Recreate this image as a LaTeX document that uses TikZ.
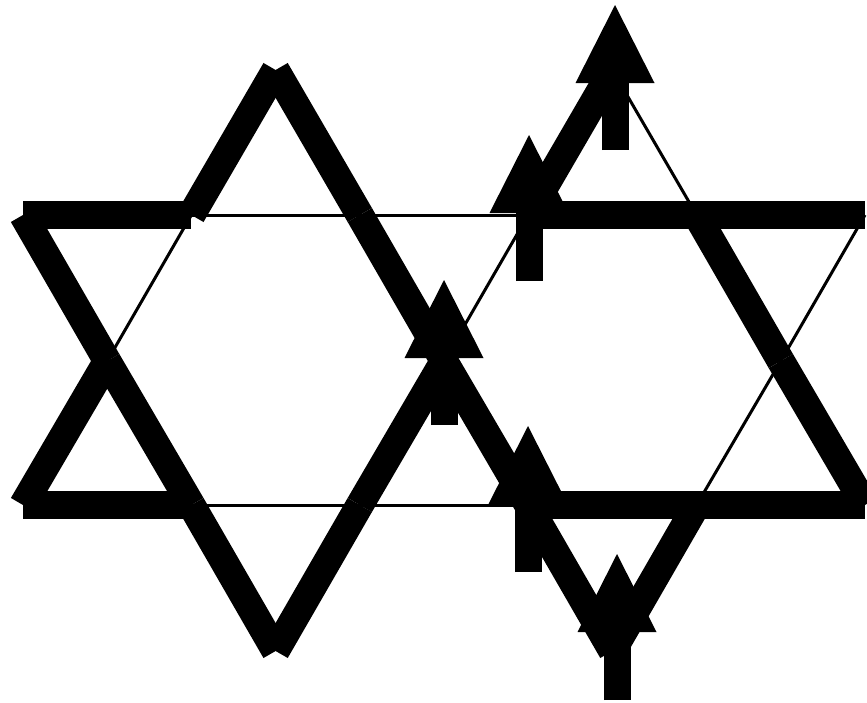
\documentclass[tikz,border=0pt]{standalone}
\usetikzlibrary{arrows.meta}
\begin{document}
\begin{tikzpicture}[x=1pt,y=-1pt,
  strongbond/.style={line width=28pt, line cap=butt},
  weakbond/.style={line width=3pt, line cap=butt},
  spin/.style={line width=27pt, line cap=butt, -{Triangle[width=79pt,length=78pt,line width=0pt]}}]
\useasboundingbox (0,0) rectangle (867,702);
% lattice sites
\coordinate (r0u3) at (275.6,70);
\coordinate (r0u7) at (612.4,70);
\coordinate (r1u0) at (23,215);
\coordinate (r1u2) at (191.4,215);
\coordinate (r1u4) at (359.8,215);
\coordinate (r1u6) at (528.2,215);
\coordinate (r1u8) at (696.6,215);
\coordinate (r1u10) at (865,215);
\coordinate (r2u1) at (107.2,361);
\coordinate (r2u5) at (444,361);
\coordinate (r2u9) at (780.8,361);
\coordinate (r3u0) at (23,505);
\coordinate (r3u2) at (191.4,505);
\coordinate (r3u4) at (359.8,505);
\coordinate (r3u6) at (528.2,505);
\coordinate (r3u8) at (696.6,505);
\coordinate (r3u10) at (865,505);
\coordinate (r4u3) at (275.6,651);
\coordinate (r4u7) at (612.4,651);
% weak bonds
\draw[weakbond] (r1u2) -- (r1u4);
\draw[weakbond] (r1u4) -- (r1u6);
\draw[weakbond] (r3u2) -- (r3u4);
\draw[weakbond] (r3u4) -- (r3u6);
\draw[weakbond] (r2u1) -- (r1u2);
\draw[weakbond] (r2u5) -- (r1u6);
\draw[weakbond] (r3u8) -- (r2u9);
\draw[weakbond] (r2u9) -- (r1u10);
\draw[weakbond] (r0u7) -- (r1u8);
% strong bonds
\draw[strongbond] (r1u0) -- (r1u2);
\draw[strongbond] (r1u6) -- (r1u8);
\draw[strongbond] (r1u8) -- (r1u10);
\draw[strongbond] (r3u0) -- (r3u2);
\draw[strongbond] (r3u6) -- (r3u8);
\draw[strongbond] (r3u8) -- (r3u10);
\draw[strongbond] (r3u0) -- (r2u1);
\draw[strongbond] (r1u2) -- (r0u3);
\draw[strongbond] (r4u3) -- (r3u4);
\draw[strongbond] (r3u4) -- (r2u5);
\draw[strongbond] (r1u6) -- (r0u7);
\draw[strongbond] (r4u7) -- (r3u8);
\draw[strongbond] (r1u0) -- (r2u1);
\draw[strongbond] (r2u1) -- (r3u2);
\draw[strongbond] (r3u2) -- (r4u3);
\draw[strongbond] (r0u3) -- (r1u4);
\draw[strongbond] (r1u4) -- (r2u5);
\draw[strongbond] (r2u5) -- (r3u6);
\draw[strongbond] (r3u6) -- (r4u7);
\draw[strongbond] (r1u8) -- (r2u9);
\draw[strongbond] (r2u9) -- (r3u10);
% spins
\coordinate (s1t) at (615,150); \coordinate (s1h) at (615,5);
\coordinate (s2t) at (529,281); \coordinate (s2h) at (529,135);
\coordinate (s3t) at (444,425); \coordinate (s3h) at (444,280);
\coordinate (s4t) at (528,572); \coordinate (s4h) at (528,426);
\coordinate (s5t) at (617,700); \coordinate (s5h) at (617,554);
\draw[spin] (s1t) -- (s1h);
\draw[spin] (s2t) -- (s2h);
\draw[spin] (s3t) -- (s3h);
\draw[spin] (s4t) -- (s4h);
\draw[spin] (s5t) -- (s5h);
\end{tikzpicture}
\end{document}
